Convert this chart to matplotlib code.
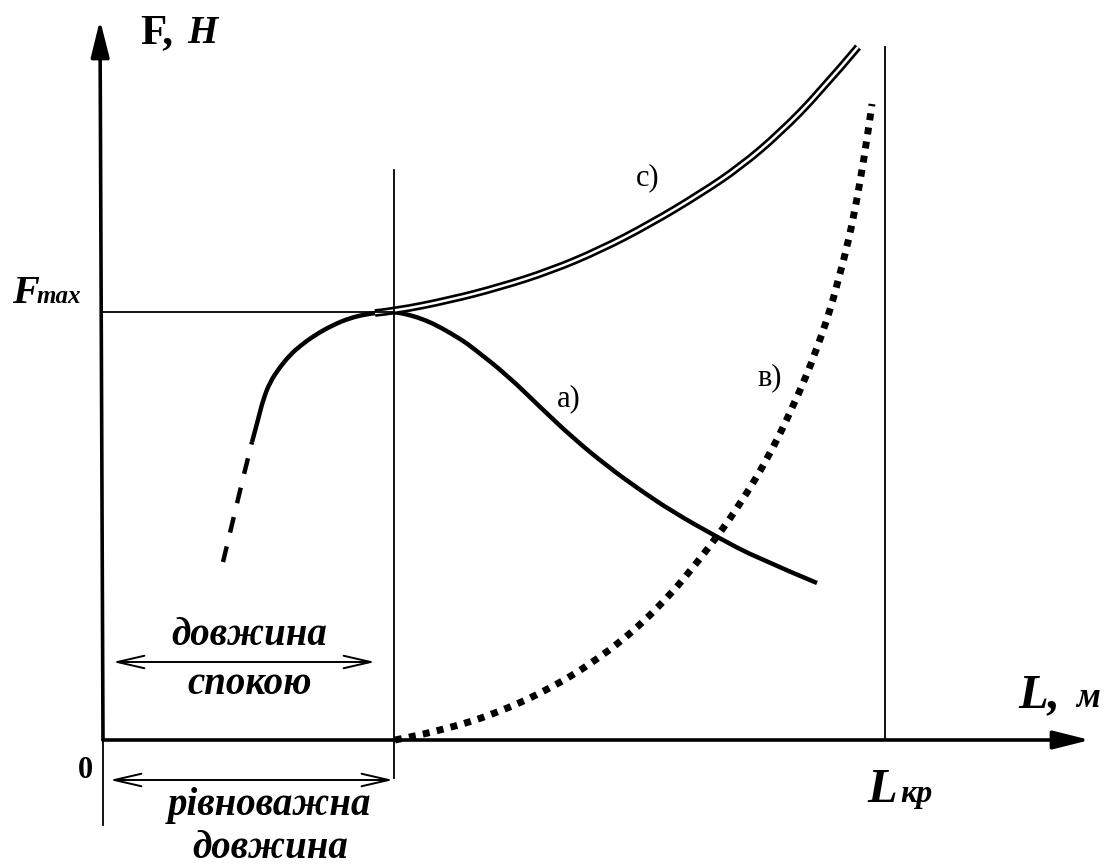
import matplotlib
matplotlib.use('Agg')
import matplotlib.pyplot as plt
from matplotlib.path import Path
from matplotlib.patches import PathPatch
import numpy as np

plt.rcParams['font.family'] = ['Liberation Serif', 'DejaVu Serif']

# curve a) - dashed start, then solid (L, F in arbitrary units)
a_dash_L = [120, 132, 140, 149]
a_dash_F = [178, 228, 262, 298]
a_L = [149, 155, 160, 167, 177, 187, 197, 212, 230, 247, 264, 282, 292, 307, 322, 337,
       359, 370, 404, 437, 470, 504, 537, 570, 614, 654, 714]
a_F = [298, 320, 340, 358, 373, 385, 394, 405, 415, 422, 426, 428, 428, 425, 420, 413,
       400, 392, 365, 333, 302, 274, 250, 228, 203, 182, 157]

# curve c) - double line
c_L = [272, 292, 347, 397, 447, 497, 547, 597, 637, 677, 717, 755]
c_F = [427, 429, 440, 453, 469, 490, 516, 546, 573, 607, 648, 693]

# curve в) - dotted
b_L = [292, 317, 337, 367, 392, 419, 445, 470, 494, 517, 540, 560, 580, 614, 637, 664,
       690, 714, 735, 757, 769]
b_F = [0, 5, 10, 18, 27, 38, 51, 65, 81, 98, 118, 138, 160, 203, 236, 280,
       333, 390, 455, 550, 636]

F_max = 428
L_eq = 291
L_rest = 272
L_cr = 782


def smooth_path(xs, ys):
    # quadratic bezier through midpoints, so the curve has no corners
    pts = np.column_stack([xs, ys]).astype(float)
    verts = [pts[0]]
    codes = [Path.MOVETO]
    n = len(pts)
    for i in range(1, n - 1):
        end = pts[i + 1] if i == n - 2 else (pts[i] + pts[i + 1]) / 2
        verts += [pts[i], end]
        codes += [Path.CURVE3, Path.CURVE3]
    if n == 2:
        verts.append(pts[1])
        codes.append(Path.LINETO)
    return Path(verts, codes)


def curve(ax, xs, ys, **kw):
    patch = PathPatch(smooth_path(xs, ys), fill=False, capstyle='butt',
                      joinstyle='round', **kw)
    ax.add_patch(patch)


fig = plt.figure(figsize=(11.13, 8.68), dpi=100)
ax = fig.add_axes([0, 0, 1, 1])
ax.set_xlim(-103, 1010)
ax.set_ylim(-128, 740)
ax.axis('off')

# axes with arrows
ax.annotate('', xy=(-3, 720), xytext=(0, 0),
            arrowprops=dict(arrowstyle='-|>,head_length=1.4,head_width=0.35',
                            mutation_scale=16, lw=2.6, color='black',
                            shrinkA=0, shrinkB=0))
ax.annotate('', xy=(987, 0), xytext=(0, 0),
            arrowprops=dict(arrowstyle='-|>,head_length=1.4,head_width=0.35',
                            mutation_scale=16, lw=2.6, color='black',
                            shrinkA=0, shrinkB=0))
ax.plot([0, 0], [0, -85], color='black', lw=1.3)

# reference lines
ax.plot([0, L_eq], [F_max, F_max], color='black', lw=1.3)
ax.plot([L_eq, L_eq], [-38, 570], color='black', lw=1.3)
ax.plot([L_cr, L_cr], [0, 693], color='black', lw=1.3)

# curve a)
curve(ax, a_dash_L, a_dash_F, edgecolor='black', lw=3.2, linestyle=(0, (3.6, 3.2)))
curve(ax, a_L, a_F, edgecolor='black', lw=3.2)

# curve c) double line
curve(ax, c_L, c_F, edgecolor='black', lw=5.6)
curve(ax, c_L, c_F, edgecolor='white', lw=1.8)

# curve в) dotted
curve(ax, b_L, b_F, edgecolor='black', lw=5, linestyle=(0, (1, 1.05)))

# double arrows
ax.annotate('', xy=(10, 78), xytext=(L_rest, 78),
            arrowprops=dict(arrowstyle='<->,head_length=1.3,head_width=0.3',
                            mutation_scale=15, lw=1.4, color='black',
                            shrinkA=0, shrinkB=0))
ax.annotate('', xy=(7, -40), xytext=(L_eq - 1, -40),
            arrowprops=dict(arrowstyle='<->,head_length=1.3,head_width=0.3',
                            mutation_scale=15, lw=1.4, color='black',
                            shrinkA=0, shrinkB=0))

bi = dict(fontweight='bold', fontstyle='italic', color='black')

# axis labels
ax.text(37, 697, 'F,', fontsize=31, fontweight='bold', va='baseline', ha='left')
ax.text(84, 697, 'H', fontsize=28, va='baseline', ha='left', **bi)
ax.text(-91, 437, 'F', fontsize=29, va='baseline', ha='left', **bi)
ax.text(-66, 437, 'max', fontsize=18, va='baseline', ha='left', **bi)
ax.text(-18, -30, '0', fontsize=22, fontweight='bold', ha='center', va='center')
ax.text(915, 33, 'L,', fontsize=35, va='baseline', ha='left', **bi)
ax.text(973, 33, 'м', fontsize=25, va='baseline', ha='left', **bi)
ax.text(764, -62, 'L', fontsize=35, va='baseline', ha='left', **bi)
ax.text(797, -62, 'кр', fontsize=23, va='baseline', ha='left', **bi)

# annotations
ax.text(146, 95, 'довжина', fontsize=28, ha='center', va='baseline', **bi)
ax.text(147, 46, 'спокою', fontsize=28, ha='center', va='baseline', **bi)
ax.text(167, -75, 'рівноважна', fontsize=28, ha='center', va='baseline', **bi)
ax.text(167, -118, 'довжина', fontsize=28, ha='center', va='baseline', **bi)

# curve labels
ax.text(545, 562, 'с)', fontsize=22, ha='center', va='center')
ax.text(466, 341, 'а)', fontsize=22, ha='center', va='center')
ax.text(667, 362, 'в)', fontsize=22, ha='center', va='center')

plt.savefig('out.png', dpi=100)
